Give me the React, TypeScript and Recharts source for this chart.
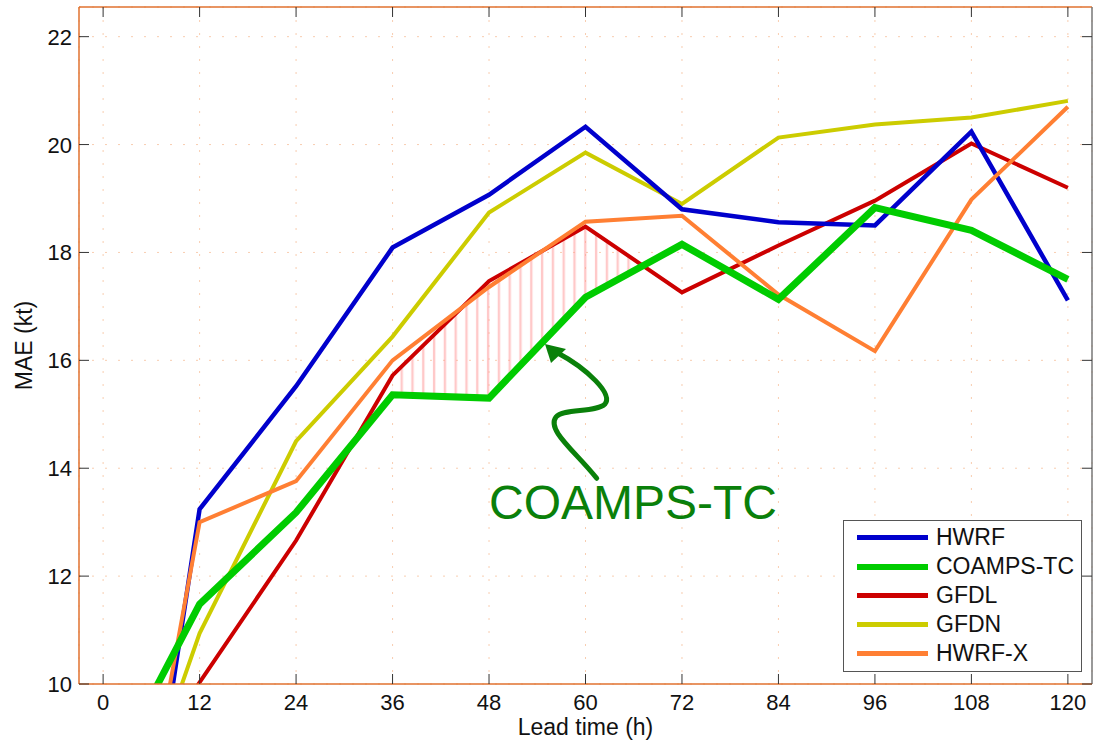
import React from 'react'
import { ComposedChart, Line, Area, XAxis, YAxis, CartesianGrid, Legend, ReferenceLine } from 'recharts'

// lead times (h)
const hours = [0, 12, 24, 36, 48, 60, 72, 84, 96, 108, 120]

// MAE (kt) per model (0 h values lie below the axis)
const hwrf = [1.5, 13.24, 15.52, 18.09, 19.07, 20.33, 18.8, 18.56, 18.5, 20.24, 17.11]
const coamps = [8.06, 11.48, 13.18, 15.36, 15.3, 17.17, 18.15, 17.13, 18.83, 18.41, 17.5]
const gfdl = [7.4, 10.03, 12.66, 15.72, 17.47, 18.48, 17.26, 18.13, 18.96, 20.02, 19.2]
const gfdn = [5.8, 10.94, 14.5, 16.44, 18.74, 19.85, 18.9, 20.13, 20.37, 20.5, 20.81]
const hwrfx = [3.2, 13.0, 13.76, 16.0, 17.36, 18.57, 18.68, 17.22, 16.17, 18.98, 20.7]

const xTicks = [0, 12, 24, 36, 48, 60, 72, 84, 96, 108, 120]
const yTicks = [10, 12, 14, 16, 18, 20, 22]

const X_MIN = -3
const X_MAX = 123
const Y_MIN = 10
const Y_MAX = 22.55

const W = 1093
const H = 746
const PLOT_TOP = 7
const PLOT_RIGHT = 1092
const FONT = '"Liberation Sans", Arial, sans-serif'
const AXIS_COLOR = '#e0722f'

const series = [
  { key: 'HWRF', values: hwrf, color: '#0000cc', width: 4.5 },
  { key: 'COAMPS-TC', values: coamps, color: '#00cc00', width: 7 },
  { key: 'GFDL', values: gfdl, color: '#cc0000', width: 4 },
  { key: 'GFDN', values: gfdn, color: '#cccc00', width: 4 },
  { key: 'HWRF-X', values: hwrfx, color: '#ff7f33', width: 4 },
]
// drawing order (last on top)
const drawOrder = ['GFDL', 'GFDN', 'HWRF', 'HWRF-X', 'COAMPS-TC']

const data = hours.map((h, i) => {
  const row: any = { h }
  series.forEach(s => { row[s.key] = s.values[i] })
  return row
})

// hatched band between GFDL (top) and COAMPS-TC (bottom) from 36 h until they cross
const hatchData: any[] = []
for (let i = hours.indexOf(36); i < hours.length; i++) {
  const d = gfdl[i] - coamps[i]
  if (d > 0) {
    hatchData.push({ h: hours[i], band: [coamps[i], gfdl[i]] })
    continue
  }
  const dPrev = gfdl[i - 1] - coamps[i - 1]
  const t = dPrev / (dPrev - d)
  const hc = hours[i - 1] + t * (hours[i] - hours[i - 1])
  const vc = coamps[i - 1] + t * (coamps[i] - coamps[i - 1])
  hatchData.push({ h: hc, band: [vc, vc] })
  break
}

const XTick = (props: any) => {
  const { x, y, payload } = props
  return (
    <g>
      <line x1={x} x2={x} y1={y} y2={y - 10} stroke="#333" strokeWidth={1} />
      <line x1={x} x2={x} y1={PLOT_TOP} y2={PLOT_TOP + 10} stroke="#333" strokeWidth={1} />
      <text x={x} y={y + 26} textAnchor="middle" fontSize={22} fill="#111" fontFamily={FONT}>
        {payload.value}
      </text>
    </g>
  )
}

const YTick = (props: any) => {
  const { x, y, payload } = props
  return (
    <g>
      <line x1={x} x2={x + 10} y1={y} y2={y} stroke="#333" strokeWidth={1} />
      <line x1={PLOT_RIGHT} x2={PLOT_RIGHT - 10} y1={y} y2={y} stroke="#333" strokeWidth={1} />
      <text x={x - 7} y={y + 8} textAnchor="end" fontSize={22} fill="#111" fontFamily={FONT}>
        {payload.value}
      </text>
    </g>
  )
}

const LegendBox = () => (
  <div
    style={{
      width: 239,
      height: 152,
      boxSizing: 'border-box',
      border: '1.5px solid #555',
      background: '#fff',
      paddingTop: 2,
      fontFamily: FONT,
    }}
  >
    {series.map(s => (
      <div key={s.key} style={{ display: 'flex', alignItems: 'center', height: 29 }}>
        <div style={{ marginLeft: 13, width: 71, height: s.width > 5 ? 6 : 5, background: s.color }} />
        <span style={{ marginLeft: 8, fontSize: 23, color: '#111', lineHeight: '29px' }}>{s.key}</span>
      </div>
    ))}
  </div>
)

export default function App() {
  return (
    <div style={{ position: 'absolute', left: 0, top: 0, width: W, height: H, background: '#fff' }}>
      <ComposedChart width={W} height={H} data={data} margin={{ top: PLOT_TOP, right: W - PLOT_RIGHT, bottom: 0, left: 0 }}>
        <defs>
          <pattern id="hatch" patternUnits="userSpaceOnUse" x={0} y={0} width={10.8} height={10}>
            <rect x={0.9} y={0} width={2.4} height={10} fill="#ff9c9c" />
          </pattern>
        </defs>
        <CartesianGrid stroke="#f2a46f" strokeOpacity={0.55} strokeDasharray="2 11" strokeWidth={1} />
        <XAxis
          dataKey="h"
          type="number"
          domain={[X_MIN, X_MAX]}
          ticks={xTicks}
          interval={0}
          allowDataOverflow
          height={62}
          tickSize={0}
          tickMargin={0}
          tickLine={false}
          axisLine={{ stroke: AXIS_COLOR, strokeWidth: 1.5 }}
          tick={<XTick />}
          label={{
            content: (p: any) => {
              const vb = p.viewBox
              return (
                <text x={vb.x + vb.width / 2} y={vb.y + 51} textAnchor="middle" fontSize={23} fill="#111" fontFamily={FONT}>
                  Lead time (h)
                </text>
              )
            },
          }}
        />
        <YAxis
          type="number"
          domain={[Y_MIN, Y_MAX]}
          ticks={yTicks}
          interval={0}
          allowDataOverflow
          width={79}
          tickSize={0}
          tickMargin={0}
          tickLine={false}
          axisLine={{ stroke: AXIS_COLOR, strokeWidth: 1.5 }}
          tick={<YTick />}
          label={{
            content: (p: any) => {
              const vb = p.viewBox
              const cy = vb.y + vb.height / 2
              return (
                <text
                  transform={`translate(${vb.x + 32},${cy}) rotate(-90)`}
                  textAnchor="middle"
                  fontSize={23}
                  fill="#111"
                  fontFamily={FONT}
                >
                  MAE (kt)
                </text>
              )
            },
          }}
        />
        <ReferenceLine y={Y_MAX} stroke={AXIS_COLOR} strokeWidth={1.5} ifOverflow="visible" />
        <ReferenceLine x={X_MAX} stroke="#777" strokeWidth={1.5} ifOverflow="visible" />
        {drawOrder.map(k => {
          const s = series.find(q => q.key === k)!
          return (
            <Line
              key={k}
              dataKey={k}
              name={k}
              type="linear"
              stroke={s.color}
              strokeWidth={s.width}
              dot={false}
              activeDot={false}
              isAnimationActive={false}
            />
          )
        })}
        <Area
          data={hatchData}
          dataKey="band"
          type="linear"
          stroke="none"
          fill="url(#hatch)"
          fillOpacity={0.55}
          legendType="none"
          isAnimationActive={false}
        />
        <Legend
          layout="vertical"
          align="center"
          verticalAlign="middle"
          wrapperStyle={{ left: 843, top: 520, width: 239, height: 152 }}
          content={<LegendBox />}
        />
      </ComposedChart>
      <svg width={W} height={H} style={{ position: 'absolute', left: 0, top: 0, pointerEvents: 'none' }}>
        <path
          d="M596.7 478.3 C 576 452, 546 430, 556 417 C 563 408, 596 413, 605 404 C 613 394, 588 369, 556 352"
          fill="none"
          stroke="#0a800a"
          strokeWidth={5}
          strokeLinecap="round"
        />
        <polygon points="545,344 551,363 566,349" fill="#0a800a" />
        <text x={489} y={519} fontSize={48} fill="#0a800a" fontFamily={FONT}>
          COAMPS-TC
        </text>
      </svg>
    </div>
  )
}
